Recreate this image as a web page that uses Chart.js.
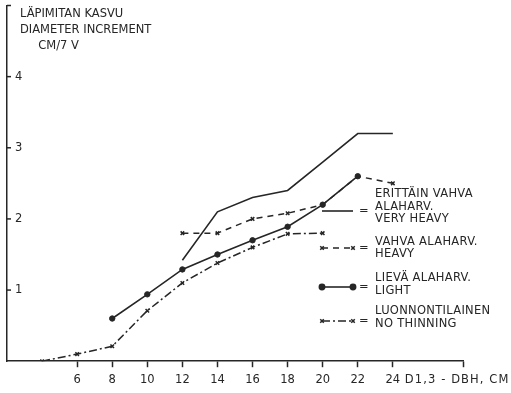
<!DOCTYPE html>
<html lang="fi">
<head>
    <meta charset="UTF-8">
    <title>Läpimitan kasvu</title>
    <script src="https://cdn.jsdelivr.net/npm/chart.js"></script>
    <style>
        body {
            margin: 0;
            padding: 0;
            background-color: #fff;
        }

        .container {
            position: relative;
            width: 511px;
            height: 393px;
        }
    </style>
</head>
<body>
    <div class="container">
        <canvas id="kasvuChart" width="511" height="393"></canvas>
    </div>

    <script>
        // DBH classes (cm)
        let dbh = [4, 6, 8, 10, 12, 14, 16, 18, 20, 22, 24];

        // diameter increment, cm / 7 years
        let veryHeavy = [null, null, null, null, 1.42, 2.1, 2.3, 2.4, 2.8, 3.2, 3.2];
        let heavy = [null, null, null, null, 1.8, 1.8, 2.0, 2.08, 2.2, 2.6, 2.5];
        let light = [null, null, 0.6, 0.94, 1.29, 1.5, 1.7, 1.89, 2.2, 2.6, null];
        let noThinning = [0, 0.1, 0.21, 0.71, 1.1, 1.38, 1.6, 1.79, 1.8, null, null];

        let xTicks = [6, 8, 10, 12, 14, 16, 18, 20, 22, 24, 28];
        let yTicks = [1, 2, 3, 4];

        let titleLines = ["LÄPIMITAN KASVU", "DIAMETER INCREMENT", "     CM/7 V"];
        let xAxisTitle = "D1,3 - DBH, CM";
        let legendLabels = [
            ["ERITTÄIN VAHVA", "ALAHARV.", "VERY HEAVY"],
            ["VAHVA ALAHARV.", "HEAVY"],
            ["LIEVÄ ALAHARV.", "LIGHT"],
            ["LUONNONTILAINEN", "NO THINNING"]
        ];

        const ink = '#262626';
        const font = '"DejaVu Sans", sans-serif';

        function toPoints(values) {
            return dbh.map((x, i) => ({ x: x, y: values[i] }));
        }

        // titles, tick marks, axis caption and the hand-drawn style legend
        const annotations = {
            id: 'annotations',
            afterDraw(chart) {
                const ctx = chart.ctx;
                const xs = chart.scales.x;
                const ys = chart.scales.y;
                const left = chart.chartArea.left;
                const top = chart.chartArea.top;

                ctx.save();
                ctx.strokeStyle = ink;
                ctx.fillStyle = ink;
                ctx.lineWidth = 1.5;

                // top hook of y axis
                ctx.beginPath();
                ctx.moveTo(left, top);
                ctx.lineTo(left + 4, top);
                ctx.stroke();

                // y ticks pointing right
                yTicks.forEach(v => {
                    const y = ys.getPixelForValue(v);
                    ctx.beginPath();
                    ctx.moveTo(left, y);
                    ctx.lineTo(left + 4, y);
                    ctx.stroke();
                });

                ctx.font = '11.5px ' + font;
                ctx.textBaseline = 'middle';
                ctx.textAlign = 'left';
                titleLines.forEach((t, i) => {
                    ctx.fillText(t, 20, 14 + i * 16);
                });

                // x axis caption after the 24 label
                ctx.save();
                ctx.letterSpacing = '1.1px';
                ctx.fillText(xAxisTitle, xs.getPixelForValue(24) + 12, 380);
                ctx.restore();

                // legend
                const sampleX0 = 322;
                const sampleX1 = 353;
                const rows = [
                    { ds: 0, lines: [194, 207, 219], sampleY: 211 },
                    { ds: 1, lines: [242, 254], sampleY: 248 },
                    { ds: 2, lines: [278, 291], sampleY: 287 },
                    { ds: 3, lines: [311, 324], sampleY: 321 }
                ];
                rows.forEach(r => {
                    const d = chart.data.datasets[r.ds];
                    ctx.save();
                    ctx.lineWidth = d.borderWidth;
                    ctx.setLineDash(d.borderDash || []);
                    ctx.beginPath();
                    ctx.moveTo(sampleX0, r.sampleY);
                    ctx.lineTo(sampleX1, r.sampleY);
                    ctx.stroke();
                    ctx.restore();
                    if (d.pointRadius > 0) {
                        [sampleX0, sampleX1].forEach(px => {
                            Chart.helpers.drawPoint(ctx, {
                                pointStyle: d.pointStyle,
                                radius: d.pointRadius,
                                borderWidth: 1.5,
                                rotation: 0
                            }, px, r.sampleY);
                        });
                    }
                    ctx.fillText('=', 359, r.sampleY);
                    ctx.save();
                    ctx.letterSpacing = '0.3px';
                    legendLabels[r.ds].forEach((t, i) => {
                        ctx.fillText(t, 375, r.lines[i]);
                    });
                    ctx.restore();
                });
                ctx.restore();
            }
        };

        const ctx = document.getElementById('kasvuChart').getContext('2d');

        new Chart(ctx, {
            type: 'line',
            data: {
                datasets: [
                    {
                        label: 'Erittäin vahva alaharv. / Very heavy',
                        data: toPoints(veryHeavy),
                        borderColor: ink,
                        backgroundColor: ink,
                        borderWidth: 1.6,
                        pointRadius: 0
                    },
                    {
                        label: 'Vahva alaharv. / Heavy',
                        data: toPoints(heavy),
                        borderColor: ink,
                        backgroundColor: ink,
                        borderWidth: 1.5,
                        borderDash: [6, 5],
                        pointStyle: 'crossRot',
                        pointRadius: 2.5,
                        pointBorderWidth: 1.5
                    },
                    {
                        label: 'Lievä alaharv. / Light',
                        data: toPoints(light),
                        borderColor: ink,
                        backgroundColor: ink,
                        borderWidth: 1.6,
                        pointStyle: 'circle',
                        pointRadius: 2.7,
                        pointBorderWidth: 1
                    },
                    {
                        label: 'Luonnontilainen / No thinning',
                        data: toPoints(noThinning),
                        borderColor: ink,
                        backgroundColor: ink,
                        borderWidth: 1.5,
                        borderDash: [8, 3, 2, 3],
                        pointStyle: 'crossRot',
                        pointRadius: 2.5,
                        pointBorderWidth: 1.5
                    }
                ]
            },
            options: {
                responsive: false,
                animation: false,
                spanGaps: false,
                layout: {
                    padding: { left: 7, right: 48, top: 3, bottom: 0 }
                },
                plugins: {
                    legend: { display: false },
                    tooltip: { enabled: false }
                },
                scales: {
                    x: {
                        type: 'linear',
                        min: 2,
                        max: 28,
                        afterBuildTicks: axis => {
                            axis.ticks = xTicks.map(v => ({ value: v }));
                        },
                        afterFit: axis => {
                            axis.paddingLeft = 0;
                            axis.paddingRight = 0;
                        },
                        grid: {
                            drawOnChartArea: false,
                            tickLength: 6,
                            tickWidth: 1.5,
                            tickColor: ink
                        },
                        border: { color: ink, width: 1.5 },
                        ticks: {
                            color: ink,
                            font: { family: font, size: 11.5 },
                            padding: 6,
                            maxRotation: 0,
                            autoSkip: false,
                            callback: v => (v === 28 ? '' : String(v))
                        }
                    },
                    y: {
                        min: 0,
                        max: 5,
                        afterBuildTicks: axis => {
                            axis.ticks = yTicks.map(v => ({ value: v }));
                        },
                        afterFit: axis => {
                            axis.width = 0;
                            axis.paddingTop = 0;
                            axis.paddingBottom = 0;
                        },
                        grid: { display: true, drawOnChartArea: false, drawTicks: false },
                        border: { display: true, color: ink, width: 1.5 },
                        ticks: {
                            mirror: true,
                            padding: 8,
                            color: ink,
                            font: { family: font, size: 11.5 }
                        }
                    }
                }
            },
            plugins: [annotations]
        });
    </script>
</body>
</html>
